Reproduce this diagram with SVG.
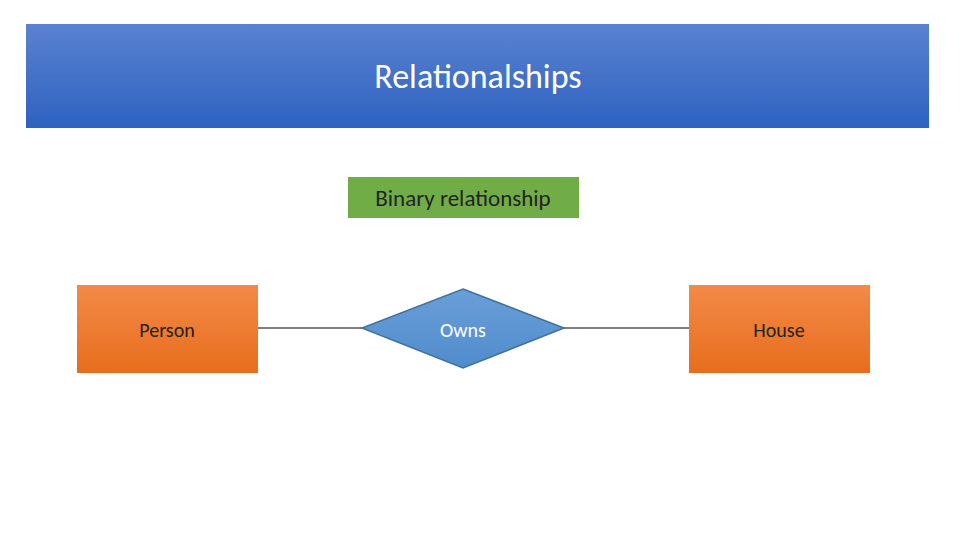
<svg xmlns="http://www.w3.org/2000/svg" width="960" height="540" viewBox="0 0 960 540">
<defs>
<linearGradient id="hdr" x1="0" y1="0" x2="0" y2="1"><stop offset="0" stop-color="#5b82d0"/><stop offset="1" stop-color="#2d62c0"/></linearGradient>
<linearGradient id="org" x1="0" y1="0" x2="0" y2="1"><stop offset="0" stop-color="#f28a48"/><stop offset="1" stop-color="#e86d1c"/></linearGradient>
<linearGradient id="blu" x1="0" y1="0" x2="0" y2="1"><stop offset="0" stop-color="#6a9fd8"/><stop offset="1" stop-color="#4f8ccc"/></linearGradient>
</defs>
<style>text{font-family:Calibri,"Liberation Sans",sans-serif;text-anchor:middle;fill:#222}</style>
<rect width="960" height="540" fill="#fff"/>
<g id="header"><rect x="26" y="24" width="903" height="104" fill="url(#hdr)"/><text x="478" y="88" font-size="34" style="fill:#fff">Relationalships</text></g>
<g id="label"><rect x="348" y="177" width="231" height="41" fill="#70ad47"/><text x="463" y="206" font-size="23">Binary relationship</text></g>
<g id="connectors" stroke="#000" stroke-width="1"><line x1="258" y1="328" x2="363" y2="328"/><line x1="564" y1="328" x2="689" y2="328"/></g>
<g id="person"><rect x="77" y="285" width="181" height="88" fill="url(#org)"/><text x="167" y="337" font-size="20">Person</text></g>
<g id="owns"><polygon points="463,289 564,328 463,368 362,328" fill="url(#blu)" stroke="#41719c" stroke-width="1.5"/><text x="463" y="337" font-size="20" style="fill:#fff">Owns</text></g>
<g id="house"><rect x="689" y="285" width="181" height="88" fill="url(#org)"/><text x="779" y="337" font-size="20">House</text></g>
</svg>
